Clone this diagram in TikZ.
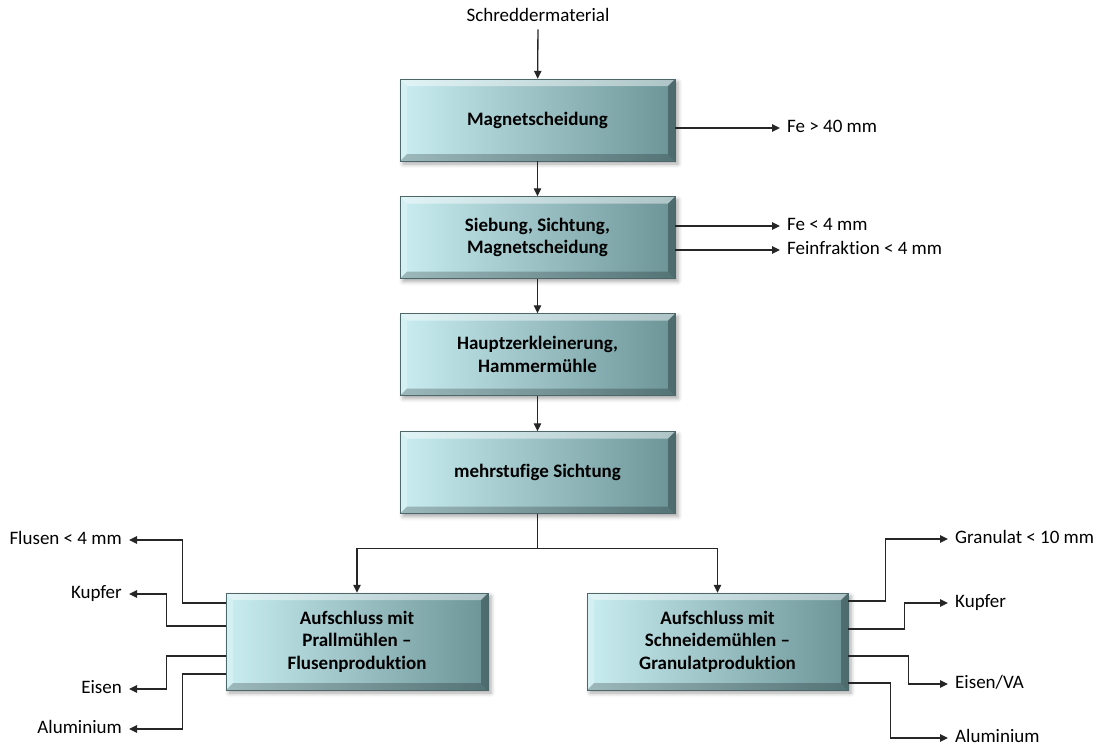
\documentclass[tikz,border=0pt]{standalone}
\usepackage{fontspec}
\setmainfont[Ligatures=NoCommon]{Carlito}
\usetikzlibrary{arrows.meta,shadows.blur}

\definecolor{boxlight}{HTML}{C9EDF1}
\definecolor{boxdark}{HTML}{6C9497}
\definecolor{linec}{HTML}{262626}

\tikzset{
  stage/.style={
    rectangle, minimum width=275, minimum height=82, inner sep=0pt,
    align=center, font=\bfseries\fontsize{19}{22.5}\selectfont,
    left color=boxlight, right color=boxdark,
    draw=boxdark!70!black, line width=0.4pt,
    blur shadow={shadow xshift=3pt, shadow yshift=-3pt,
                 shadow blur radius=4pt, shadow opacity=35},
    path picture={
      % bevelled edges: light on top/left, dark on bottom/right
      \fill[white,opacity=0.45]
        (path picture bounding box.north west) -- (path picture bounding box.north east)
        -- ([xshift=-7pt,yshift=-7pt]path picture bounding box.north east)
        -- ([xshift=7pt,yshift=-7pt]path picture bounding box.north west) -- cycle;
      \fill[white,opacity=0.25]
        (path picture bounding box.north west) -- (path picture bounding box.south west)
        -- ([xshift=7pt,yshift=7pt]path picture bounding box.south west)
        -- ([xshift=7pt,yshift=-7pt]path picture bounding box.north west) -- cycle;
      \fill[black,opacity=0.22]
        (path picture bounding box.south west) -- (path picture bounding box.south east)
        -- ([xshift=-7pt,yshift=7pt]path picture bounding box.south east)
        -- ([xshift=7pt,yshift=7pt]path picture bounding box.south west) -- cycle;
      \fill[black,opacity=0.28]
        (path picture bounding box.north east) -- (path picture bounding box.south east)
        -- ([xshift=-7pt,yshift=7pt]path picture bounding box.south east)
        -- ([xshift=-7pt,yshift=-7pt]path picture bounding box.north east) -- cycle;
    }
  },
  outlabel/.style={font=\fontsize{19}{22}\selectfont, inner sep=4pt,
                   text height=12.5pt, text depth=4pt},
  link/.style={draw=linec, line width=1.3pt},
  flow/.style={link, -{Triangle[length=8pt,width=7.5pt]}},
  toout/.style={flow, shorten >=3pt}
}

\begin{document}
\begin{tikzpicture}[x=1pt,y=-1pt]
\useasboundingbox (0,0) rectangle (1099,747);

% main line
\node[outlabel] (src) at (538,17) {Schreddermaterial};
\node[stage] (s1) at (537.5,120) {Magnetscheidung};
\node[stage] (s2) at (537.5,237.5) {Siebung, Sichtung,\\Magnetscheidung};
\node[stage] (s3) at (537.5,354.5) {Hauptzerkleinerung,\\Hammermühle};
\node[stage] (s4) at (537.5,472.5) {mehrstufige Sichtung};

% the two grinding branches
\node[stage, minimum width=262, minimum height=97] (pl) at (357,641.5)
  {Aufschluss mit\\Prallmühlen –\\Flusenproduktion};
\node[stage, minimum width=261, minimum height=97] (gr) at (717.5,641.5)
  {Aufschluss mit\\Schneidemühlen –\\Granulatproduktion};

% outputs of the main line
\node[outlabel, anchor=west] (fe40) at (783,128) {Fe > 40 mm};
\node[outlabel, anchor=west] (fe4) at (783,226) {Fe < 4 mm};
\node[outlabel, anchor=west] (fein) at (783,250) {Feinfraktion < 4 mm};

% outputs of the impact mill branch
\node[outlabel, anchor=east] (flus) at (126,540) {Flusen < 4 mm};
\node[outlabel, anchor=east] (kupl) at (126,594) {Kupfer};
\node[outlabel, anchor=east] (eisl) at (126,689) {Eisen};
\node[outlabel, anchor=east] (alul) at (126,729) {Aluminium};

% outputs of the cutting mill branch
\node[outlabel, anchor=west] (gran) at (951,539) {Granulat < 10 mm};
\node[outlabel, anchor=west] (kupr) at (951,603) {Kupfer};
\node[outlabel, anchor=west] (eisr) at (951,684) {Eisen/VA};
\node[outlabel, anchor=west] (alur) at (951,738) {Aluminium};

% main flow
\draw[flow] (src) -- (s1);
\draw[flow] (s1) -- (s2);
\draw[flow] (s2) -- (s3);
\draw[flow] (s3) -- (s4);

\path (s4.south) ++(0,35) coordinate (split);
\draw[link] (s4.south) -- (split);
\draw[flow] (split) -| (pl.north);
\draw[flow] (split) -| (gr.north);

\draw[toout] (s1.east |- fe40) -- (fe40);
\draw[toout] (s2.east |- fe4) -- (fe4);
\draw[toout] (s2.east |- fein) -- (fein);

% left branch outputs
\draw[toout] (pl.west |- 0,603) -- ++(-43,0) |- (flus);
\draw[toout] (pl.west |- 0,626) -- ++(-59,0) |- (kupl);
\draw[toout] (pl.west |- 0,656) -- ++(-59,0) |- (eisl);
\draw[toout] (pl.west |- 0,674) -- ++(-43,0) |- (alul);

% right branch outputs
\draw[toout] (gr.east |- 0,601) -- ++(37,0) |- (gran);
\draw[toout] (gr.east |- 0,629) -- ++(56,0) |- (kupr);
\draw[toout] (gr.east |- 0,656) -- ++(60,0) |- (eisr);
\draw[toout] (gr.east |- 0,683) -- ++(42,0) |- (alur);
\end{tikzpicture}
\end{document}
